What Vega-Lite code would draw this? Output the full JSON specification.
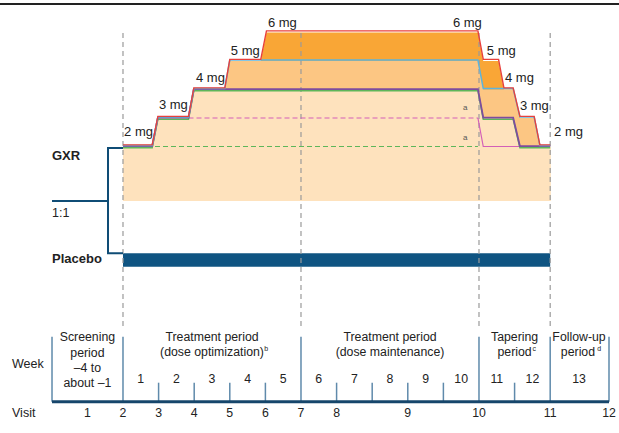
{
  "$schema": "https://vega.github.io/schema/vega-lite/v6.json",
  "width": 619,
  "height": 433,
  "autosize": {"type": "none"},
  "padding": 0,
  "background": "white",
  "config": {"view": {"stroke": null}, "text": {"font": "Liberation Sans, Arial, sans-serif", "color": "#222"}},
  "data": {"values": [{}]},
  "datasets": {
    "paths": [
      {"s": "red", "w": 0, "d": 2}, {"s": "red", "w": 0.82, "d": 2}, {"s": "red", "w": 0.98, "d": 3}, {"s": "red", "w": 1.84, "d": 3}, {"s": "red", "w": 1.99, "d": 4}, {"s": "red", "w": 2.86, "d": 4}, {"s": "red", "w": 3.0, "d": 5}, {"s": "red", "w": 3.87, "d": 5}, {"s": "red", "w": 4.03, "d": 6}, {"s": "red", "w": 9.97, "d": 6}, {"s": "red", "w": 10.12, "d": 5}, {"s": "red", "w": 10.55, "d": 5}, {"s": "red", "w": 10.7, "d": 4}, {"s": "red", "w": 10.96, "d": 4}, {"s": "red", "w": 11.15, "d": 3}, {"s": "red", "w": 11.55, "d": 3}, {"s": "red", "w": 11.71, "d": 2}, {"s": "red", "w": 12, "d": 2},
      {"s": "blue", "w": 0, "d": 2}, {"s": "blue", "w": 0.82, "d": 2}, {"s": "blue", "w": 0.98, "d": 3}, {"s": "blue", "w": 1.84, "d": 3}, {"s": "blue", "w": 1.99, "d": 4}, {"s": "blue", "w": 2.86, "d": 4}, {"s": "blue", "w": 3.0, "d": 5}, {"s": "blue", "w": 9.97, "d": 5}, {"s": "blue", "w": 10.12, "d": 4}, {"s": "blue", "w": 10.96, "d": 4}, {"s": "blue", "w": 11.15, "d": 3}, {"s": "blue", "w": 11.55, "d": 3}, {"s": "blue", "w": 11.71, "d": 2}, {"s": "blue", "w": 12, "d": 2},
      {"s": "purple", "w": 0, "d": 2}, {"s": "purple", "w": 0.82, "d": 2}, {"s": "purple", "w": 0.98, "d": 3}, {"s": "purple", "w": 1.84, "d": 3}, {"s": "purple", "w": 1.99, "d": 4}, {"s": "purple", "w": 9.97, "d": 4}, {"s": "purple", "w": 10.12, "d": 3}, {"s": "purple", "w": 10.96, "d": 3}, {"s": "purple", "w": 11.15, "d": 2}, {"s": "purple", "w": 12, "d": 2}
    ],
    "dashed": [
      {"s": "green", "w": 0, "d": 2}, {"s": "green", "w": 9.97, "d": 2},
      {"s": "pink", "w": 1.84, "d": 3}, {"s": "pink", "w": 9.97, "d": 3}
    ],
    "pinkdrop": [
      {"w": 9.97, "d": 3}, {"w": 10.12, "d": 2}, {"w": 12, "d": 2}
    ],
    "doseLeft": [
      {"t": "2 mg", "w": 0.03, "d": 2.51}, {"t": "3 mg", "w": 1.01, "d": 3.46}, {"t": "4 mg", "w": 2.05, "d": 4.4}, {"t": "5 mg", "w": 3.03, "d": 5.35}, {"t": "6 mg", "w": 4.07, "d": 6.33},
      {"t": "5 mg", "w": 10.22, "d": 5.35}, {"t": "4 mg", "w": 10.73, "d": 4.4}, {"t": "3 mg", "w": 11.15, "d": 3.42}, {"t": "2 mg", "w": 12.11, "d": 2.51}
    ],
    "doseRight": [{"t": "6 mg", "w": 10.08, "d": 6.33}],
    "footA": [{"t": "a", "w": 9.55, "d": 3.35}, {"t": "a", "w": 9.55, "d": 2.3}],
    "armLabels": [{"t": "GXR", "w": -1.994, "d": 1.667}, {"t": "Placebo", "w": -1.994, "d": -1.947}],
    "sideLabels": [{"t": "1:1", "w": -1.994, "d": -0.333}, {"t": "Week", "w": -3.118, "d": -5.642}, {"t": "Visit", "w": -3.118, "d": -7.34}],
    "centerLabels": [
      {"t": "Screening", "w": -1.0, "d": -4.674}, {"t": "period", "w": -1.0, "d": -5.235}, {"t": "\u20134 to", "w": -1.0, "d": -5.782}, {"t": "about \u20131", "w": -1.0, "d": -6.288},
      {"t": "Treatment period", "w": 2.5, "d": -4.674}, {"t": "(dose optimization)", "w": 2.5, "d": -5.225},
      {"t": "Treatment period", "w": 7.5, "d": -4.674}, {"t": "(dose maintenance)", "w": 7.5, "d": -5.225},
      {"t": "Tapering", "w": 11.0, "d": -4.674}, {"t": "period", "w": 11.0, "d": -5.225},
      {"t": "Follow-up", "w": 12.81, "d": -4.674}, {"t": "period", "w": 12.78, "d": -5.225},
      {"t": "1", "w": 0.5, "d": -6.158}, {"t": "2", "w": 1.5, "d": -6.158}, {"t": "3", "w": 2.5, "d": -6.158}, {"t": "4", "w": 3.5, "d": -6.158}, {"t": "5", "w": 4.5, "d": -6.158}, {"t": "6", "w": 5.5, "d": -6.158}, {"t": "7", "w": 6.5, "d": -6.158}, {"t": "8", "w": 7.5, "d": -6.158}, {"t": "9", "w": 8.5, "d": -6.158}, {"t": "10", "w": 9.5, "d": -6.158}, {"t": "11", "w": 10.5, "d": -6.158}, {"t": "12", "w": 11.5, "d": -6.158}, {"t": "13", "w": 12.81, "d": -6.158},
      {"t": "1", "w": -1.0, "d": -7.34}, {"t": "2", "w": 0, "d": -7.34}, {"t": "3", "w": 1, "d": -7.34}, {"t": "4", "w": 2, "d": -7.34}, {"t": "5", "w": 3, "d": -7.34}, {"t": "6", "w": 4, "d": -7.34}, {"t": "7", "w": 5, "d": -7.34}, {"t": "8", "w": 6, "d": -7.34}, {"t": "9", "w": 8, "d": -7.34}, {"t": "10", "w": 10, "d": -7.34}, {"t": "11", "w": 12, "d": -7.34}, {"t": "12", "w": 13.652, "d": -7.34}
    ],
    "sups": [{"t": "b", "w": 3.97, "d": -5.12}, {"t": "c", "w": 11.5, "d": -5.12}, {"t": "d", "w": 13.32, "d": -5.12}],
    "dividers": [{"w": -1.994}, {"w": 0}, {"w": 5}, {"w": 10}, {"w": 12}, {"w": 13.652}],
    "weekTicks": [{"w": 1}, {"w": 2}, {"w": 3}, {"w": 4}, {"w": 6}, {"w": 7}, {"w": 8}, {"w": 9}, {"w": 11}],
    "phaseLines": [{"w": 0}, {"w": 5}, {"w": 10}, {"w": 12}],
    "bracket": [{"i": 0, "w": 0, "d": 1.95}, {"i": 1, "w": -0.421, "d": 1.95}, {"i": 2, "w": -0.421, "d": -1.748}, {"i": 3, "w": 0, "d": -1.748}],
    "placebo": [{"arm": "Placebo", "start": 0, "end": 12}]
  },
  "layer": [
    {
      "mark": {"type": "rule", "color": "#222", "strokeWidth": 2},
      "encoding": {
        "x": {"datum": -3.455, "type": "quantitative", "scale": {"domain": [-3.455, 13.933], "nice": false, "zero": false}, "axis": null},
        "x2": {"datum": 13.933},
        "y": {"datum": 7.0, "type": "quantitative", "scale": {"domain": [-8.053, 7.14], "nice": false, "zero": false}, "axis": null}
      }
    },
    {
      "data": {"name": "paths"},
      "transform": [{"filter": "datum.s === 'red'"}],
      "mark": {"type": "area", "color": "#F9A636", "opacity": 1},
      "encoding": {
        "x": {"field": "w", "type": "quantitative", "scale": {"domain": [-3.455, 13.933], "nice": false, "zero": false}, "axis": null},
        "y": {"field": "d", "type": "quantitative", "scale": {"domain": [-8.053, 7.14], "nice": false, "zero": false}, "axis": null},
        "y2": {"datum": 0.09}
      }
    },
    {
      "data": {"name": "paths"},
      "transform": [{"filter": "datum.s === 'blue'"}],
      "mark": {"type": "area", "color": "#FCC683", "opacity": 1},
      "encoding": {
        "x": {"field": "w", "type": "quantitative", "axis": null},
        "y": {"field": "d", "type": "quantitative", "axis": null},
        "y2": {"datum": 0.09}
      }
    },
    {
      "data": {"name": "paths"},
      "transform": [{"filter": "datum.s === 'purple'"}],
      "mark": {"type": "area", "color": "#FEE2BD", "opacity": 1},
      "encoding": {
        "x": {"field": "w", "type": "quantitative", "axis": null},
        "y": {"field": "d", "type": "quantitative", "axis": null},
        "y2": {"datum": 0.09}
      }
    },
    {
      "data": {"name": "placebo"},
      "mark": {"type": "rect", "color": "#0F5482"},
      "encoding": {
        "x": {"field": "start", "type": "quantitative", "axis": null},
        "x2": {"field": "end"},
        "y": {"datum": -1.748, "type": "quantitative", "axis": null},
        "y2": {"datum": -2.216}
      }
    },
    {
      "data": {"name": "phaseLines"},
      "mark": {"type": "rule", "color": "#9a9a9a", "strokeWidth": 1.2, "strokeDash": [5, 4]},
      "encoding": {
        "x": {"field": "w", "type": "quantitative", "axis": null},
        "y": {"datum": 5.98, "type": "quantitative", "axis": null},
        "y2": {"datum": -4.368}
      }
    },
    {
      "data": {"name": "dashed"},
      "transform": [{"filter": "datum.s === 'green'"}],
      "mark": {"type": "line", "color": "#5EB65A", "strokeWidth": 1.2, "strokeDash": [5, 3]},
      "encoding": {
        "x": {"field": "w", "type": "quantitative", "axis": null},
        "y": {"field": "d", "type": "quantitative", "axis": null}
      }
    },
    {
      "data": {"name": "dashed"},
      "transform": [{"filter": "datum.s === 'pink'"}],
      "mark": {"type": "line", "color": "#D35FB7", "strokeWidth": 1.2, "strokeDash": [5, 3]},
      "encoding": {
        "x": {"field": "w", "type": "quantitative", "axis": null},
        "y": {"field": "d", "type": "quantitative", "axis": null}
      }
    },
    {
      "data": {"name": "pinkdrop"},
      "mark": {"type": "line", "color": "#D35FB7", "strokeWidth": 1.2},
      "encoding": {
        "x": {"field": "w", "type": "quantitative", "axis": null},
        "y": {"field": "d", "type": "quantitative", "axis": null}
      }
    },
    {
      "data": {"name": "paths"},
      "transform": [{"filter": "datum.s === 'purple'"}],
      "mark": {"type": "line", "color": "#5EB65A", "strokeWidth": 1.5, "yOffset": 1.2},
      "encoding": {
        "x": {"field": "w", "type": "quantitative", "axis": null},
        "y": {"field": "d", "type": "quantitative", "axis": null}
      }
    },
    {
      "data": {"name": "paths"},
      "transform": [{"filter": "datum.s === 'purple'"}],
      "mark": {"type": "line", "color": "#7D4C9E", "strokeWidth": 1.8, "yOffset": -0.3},
      "encoding": {
        "x": {"field": "w", "type": "quantitative", "axis": null},
        "y": {"field": "d", "type": "quantitative", "axis": null}
      }
    },
    {
      "data": {"name": "paths"},
      "transform": [{"filter": "datum.s === 'blue'"}],
      "mark": {"type": "line", "color": "#5DB4DC", "strokeWidth": 1.5, "yOffset": -0.9},
      "encoding": {
        "x": {"field": "w", "type": "quantitative", "axis": null},
        "y": {"field": "d", "type": "quantitative", "axis": null}
      }
    },
    {
      "data": {"name": "paths"},
      "transform": [{"filter": "datum.s === 'red'"}],
      "mark": {"type": "line", "color": "#E8403C", "strokeWidth": 1.4, "yOffset": -1.6},
      "encoding": {
        "x": {"field": "w", "type": "quantitative", "axis": null},
        "y": {"field": "d", "type": "quantitative", "axis": null}
      }
    },
    {
      "data": {"name": "bracket"},
      "mark": {"type": "line", "color": "#0F4C75", "strokeWidth": 2},
      "encoding": {
        "x": {"field": "w", "type": "quantitative", "axis": null},
        "y": {"field": "d", "type": "quantitative", "axis": null},
        "order": {"field": "i", "type": "quantitative"}
      }
    },
    {
      "mark": {"type": "rule", "color": "#0F4C75", "strokeWidth": 2},
      "encoding": {
        "x": {"datum": -1.994, "type": "quantitative", "axis": null},
        "x2": {"datum": -0.421},
        "y": {"datum": 0.088, "type": "quantitative", "axis": null}
      }
    },
    {
      "data": {"name": "dividers"},
      "mark": {"type": "rule", "color": "#5F8AAB", "strokeWidth": 1.5},
      "encoding": {
        "x": {"field": "w", "type": "quantitative", "axis": null},
        "y": {"datum": -4.674, "type": "quantitative", "axis": null},
        "y2": {"datum": -6.96}
      }
    },
    {
      "data": {"name": "weekTicks"},
      "mark": {"type": "rule", "color": "#5F8AAB", "strokeWidth": 1.5},
      "encoding": {
        "x": {"field": "w", "type": "quantitative", "axis": null},
        "y": {"datum": -6.288, "type": "quantitative", "axis": null},
        "y2": {"datum": -6.96}
      }
    },
    {
      "mark": {"type": "rule", "color": "#16466B", "strokeWidth": 3},
      "encoding": {
        "x": {"datum": -1.994, "type": "quantitative", "axis": null},
        "x2": {"datum": 13.652},
        "y": {"datum": -6.96, "type": "quantitative", "axis": null}
      }
    },
    {
      "data": {"name": "doseLeft"},
      "mark": {"type": "text", "align": "left", "baseline": "middle", "fontSize": 13},
      "encoding": {
        "x": {"field": "w", "type": "quantitative", "axis": null},
        "y": {"field": "d", "type": "quantitative", "axis": null},
        "text": {"field": "t"}
      }
    },
    {
      "data": {"name": "doseRight"},
      "mark": {"type": "text", "align": "right", "baseline": "middle", "fontSize": 13},
      "encoding": {
        "x": {"field": "w", "type": "quantitative", "axis": null},
        "y": {"field": "d", "type": "quantitative", "axis": null},
        "text": {"field": "t"}
      }
    },
    {
      "data": {"name": "footA"},
      "mark": {"type": "text", "align": "left", "baseline": "middle", "fontSize": 8, "color": "#555"},
      "encoding": {
        "x": {"field": "w", "type": "quantitative", "axis": null},
        "y": {"field": "d", "type": "quantitative", "axis": null},
        "text": {"field": "t"}
      }
    },
    {
      "data": {"name": "armLabels"},
      "mark": {"type": "text", "align": "left", "baseline": "middle", "fontSize": 13, "fontWeight": "bold"},
      "encoding": {
        "x": {"field": "w", "type": "quantitative", "axis": null},
        "y": {"field": "d", "type": "quantitative", "axis": null},
        "text": {"field": "t"}
      }
    },
    {
      "data": {"name": "sideLabels"},
      "mark": {"type": "text", "align": "left", "baseline": "middle", "fontSize": 12.5},
      "encoding": {
        "x": {"field": "w", "type": "quantitative", "axis": null},
        "y": {"field": "d", "type": "quantitative", "axis": null},
        "text": {"field": "t"}
      }
    },
    {
      "data": {"name": "centerLabels"},
      "mark": {"type": "text", "align": "center", "baseline": "middle", "fontSize": 12.3},
      "encoding": {
        "x": {"field": "w", "type": "quantitative", "axis": null},
        "y": {"field": "d", "type": "quantitative", "axis": null},
        "text": {"field": "t"}
      }
    },
    {
      "data": {"name": "sups"},
      "mark": {"type": "text", "align": "left", "baseline": "middle", "fontSize": 7},
      "encoding": {
        "x": {"field": "w", "type": "quantitative", "axis": null},
        "y": {"field": "d", "type": "quantitative", "axis": null},
        "text": {"field": "t"}
      }
    }
  ]
}
